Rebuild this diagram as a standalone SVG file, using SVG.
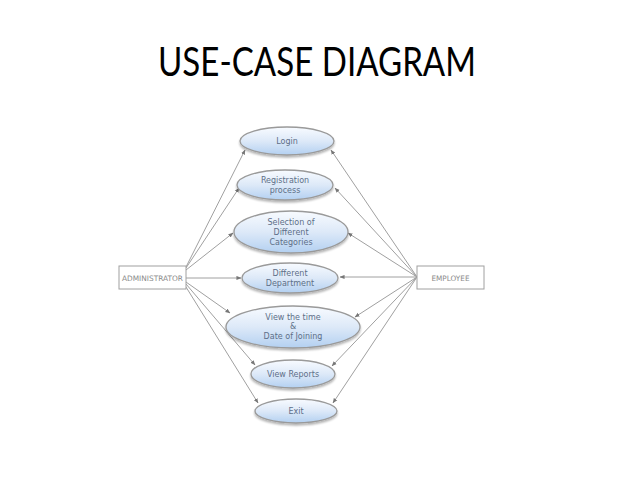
<svg xmlns="http://www.w3.org/2000/svg" width="638" height="479" viewBox="0 0 638 479">
<defs>
<linearGradient id="uc" x1="0" y1="0" x2="0" y2="1">
<stop offset="0" stop-color="#f8fbff"/>
<stop offset="0.5" stop-color="#dde9f8"/>
<stop offset="1" stop-color="#b3d0f1"/>
</linearGradient>
<filter id="sh" x="-20%" y="-30%" width="140%" height="170%">
<feGaussianBlur in="SourceAlpha" stdDeviation="1.2"/>
<feOffset dx="0" dy="1.5" result="b"/>
<feComponentTransfer><feFuncA type="linear" slope="0.3"/></feComponentTransfer>
<feMerge><feMergeNode/><feMergeNode in="SourceGraphic"/></feMerge>
</filter>
<marker id="ah" viewBox="0 0 6 6" refX="5.5" refY="3" markerWidth="5" markerHeight="5" orient="auto" markerUnits="userSpaceOnUse">
<path d="M0,0.5 L6,3 L0,5.5 Z" fill="#777"/>
</marker>
</defs>
<style>
.title{font-family:Lato,"Liberation Sans",sans-serif;font-size:40px;fill:#000}
.uc ellipse{fill:url(#uc);stroke:#9a9a9a;stroke-width:1.3;filter:url(#sh)}
.uc text{font-family:"DejaVu Sans","Liberation Sans",sans-serif;font-size:8px;fill:#5d6f88;text-anchor:middle}
.actor rect{fill:#fff;stroke:#a0a0a0;stroke-width:1}
.actor text{font-family:"DejaVu Sans","Liberation Sans",sans-serif;font-size:7.5px;fill:#8a8a8a;text-anchor:middle}
.edges line{stroke:#a0a0a0;stroke-width:1;marker-end:url(#ah)}
</style>
<rect width="638" height="479" fill="#fff"/>
<text class="title" x="158" y="76" textLength="318" lengthAdjust="spacingAndGlyphs">USE-CASE DIAGRAM</text>

<g id="edges" class="edges">
<line x1="186" y1="267" x2="245" y2="150"/>
<line x1="186" y1="268" x2="239" y2="188"/>
<line x1="186" y1="270" x2="233" y2="233"/>
<line x1="186" y1="278" x2="241" y2="278"/>
<line x1="186" y1="282" x2="230" y2="313"/>
<line x1="186" y1="284" x2="255" y2="365"/>
<line x1="186" y1="287" x2="258" y2="403"/>
<line x1="417" y1="277" x2="331" y2="150"/>
<line x1="417" y1="277" x2="335" y2="188"/>
<line x1="417" y1="277" x2="348" y2="233"/>
<line x1="417" y1="277" x2="340" y2="277"/>
<line x1="417" y1="277" x2="355" y2="317"/>
<line x1="417" y1="277" x2="332" y2="366"/>
<line x1="417" y1="277" x2="333" y2="403"/>
</g>

<g id="administrator" class="actor">
<rect x="119" y="266" width="67" height="23"/>
<text x="152.5" y="280.5" textLength="61" lengthAdjust="spacingAndGlyphs">ADMINISTRATOR</text>
</g>
<g id="employee" class="actor">
<rect x="417" y="266" width="67" height="23"/>
<text x="450.5" y="280.5" textLength="38" lengthAdjust="spacingAndGlyphs">EMPLOYEE</text>
</g>

<g id="login" class="uc">
<ellipse cx="287" cy="141" rx="47" ry="14"/>
<text x="287" y="144">Login</text>
</g>
<g id="registration" class="uc">
<ellipse cx="285" cy="185" rx="48" ry="15"/>
<text x="285" y="183">Registration</text>
<text x="285" y="193">process</text>
</g>
<g id="selection" class="uc">
<ellipse cx="291" cy="232" rx="57" ry="21"/>
<text x="291" y="225">Selection of</text>
<text x="291" y="235">Different</text>
<text x="291" y="245">Categories</text>
</g>
<g id="department" class="uc">
<ellipse cx="290" cy="278" rx="48" ry="15"/>
<text x="290" y="276">Different</text>
<text x="290" y="286">Department</text>
</g>
<g id="viewtime" class="uc">
<ellipse cx="293" cy="327" rx="67" ry="21"/>
<text x="293" y="320">View the time</text>
<text x="293" y="329">&amp;</text>
<text x="293" y="339">Date of Joining</text>
</g>
<g id="reports" class="uc">
<ellipse cx="293" cy="374" rx="42" ry="14"/>
<text x="293" y="377">View Reports</text>
</g>
<g id="exit" class="uc">
<ellipse cx="296" cy="411" rx="41" ry="12"/>
<text x="296" y="414">Exit</text>
</g>
</svg>
